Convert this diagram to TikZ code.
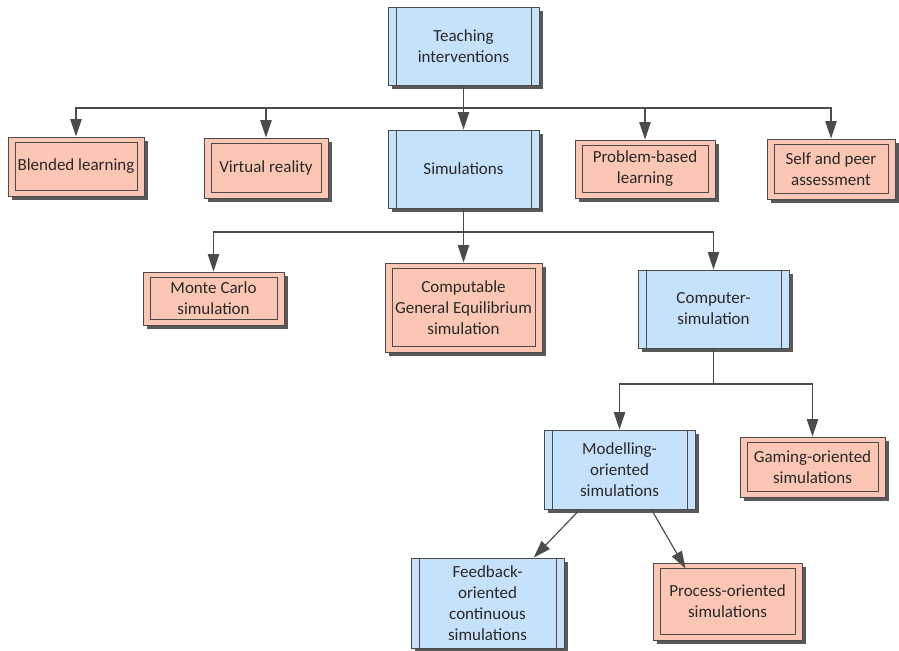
\documentclass[tikz,border=0pt]{standalone}
\usepackage{fontspec}
\setmainfont{Carlito}
\usepackage{tikz}
\usetikzlibrary{arrows.meta,shadows,calc}
\definecolor{simblue}{RGB}{197,225,252}
\definecolor{leafpink}{RGB}{251,199,180}
\definecolor{edgegray}{RGB}{75,75,75}
\definecolor{textgray}{RGB}{40,40,40}
\tikzstyle{basebox} = [draw=edgegray, line width=0.8pt, rectangle, align=center,
    text=textgray, font=\fontsize{14.5}{18}\selectfont, inner sep=2pt,
    drop shadow={shadow xshift=1.2mm, shadow yshift=-1.2mm, fill=black!65, opacity=1}]
\tikzstyle{simbox} = [basebox, fill=simblue,
    path picture={\draw[edgegray, line width=0.8pt]
        ([xshift=2.4mm]path picture bounding box.north west) -- ([xshift=2.4mm]path picture bounding box.south west)
        ([xshift=-2.4mm]path picture bounding box.north east) -- ([xshift=-2.4mm]path picture bounding box.south east);}]
\tikzstyle{leafbox} = [basebox, fill=leafpink,
    path picture={\draw[edgegray, line width=0.8pt]
        ([shift={(2.1mm,-1.6mm)}]path picture bounding box.north west) rectangle
        ([shift={(-2.1mm,1.6mm)}]path picture bounding box.south east);}]
\tikzstyle{link} = [draw=edgegray, line width=1pt]
\tikzstyle{arr} = [link, -{Triangle[length=5.2mm, width=3.4mm]}]

\begin{document}
\begin{tikzpicture}[x=0.03cm, y=-0.03cm]
\useasboundingbox (0,0) rectangle (899,651);
\node [simbox, minimum width=4.53cm, minimum height=2.34cm] (teach) at (463.5,46) {Teaching\\interventions};
\node [leafbox, minimum width=4.08cm, minimum height=1.77cm] (blend) at (76,166.5) {Blended learning};
\node [leafbox, minimum width=3.72cm, minimum height=1.8cm] (vr) at (266,168) {Virtual reality};
\node [simbox, minimum width=4.53cm, minimum height=2.34cm] (sims) at (463.5,169) {Simulations};
\node [leafbox, minimum width=4.2cm, minimum height=1.74cm] (pbl) at (645,169) {Problem-based\\learning};
\node [leafbox, minimum width=3.84cm, minimum height=1.8cm] (self) at (831,169) {Self and peer\\assessment};
\node [leafbox, minimum width=4.23cm, minimum height=1.59cm] (monte) at (213.5,298.5) {Monte Carlo\\simulation};
\node [leafbox, minimum width=4.71cm, minimum height=2.67cm] (cge) at (463.5,307.5) {Computable\\General Equilibrium\\simulation};
\node [simbox, minimum width=4.53cm, minimum height=2.34cm] (comp) at (713.5,309) {Computer-\\simulation};
\node [simbox, minimum width=4.53cm, minimum height=2.37cm] (model) at (619.5,469.5) {Modelling-\\oriented\\simulations};
\node [leafbox, minimum width=4.35cm, minimum height=1.8cm] (game) at (812.5,467) {Gaming-oriented\\simulations};
\node [simbox, minimum width=4.59cm, minimum height=2.7cm] (feed) at (487.5,603) {Feedback-\\oriented\\continuous\\simulations};
\node [leafbox, minimum width=4.47cm, minimum height=2.31cm] (proc) at (727.5,601.5) {Process-oriented\\simulations};

\coordinate (j1) at (463.5,108);
\coordinate (j2) at (463.5,232);
\coordinate (j3) at (713.5,384);
\draw [link] (teach) -- (j1);
\foreach \n in {blend,vr,sims,pbl,self}
    \draw [arr] (j1) -| (\n.north);
\draw [link] (sims) -- (j2);
\foreach \n in {monte,cge,comp}
    \draw [arr] (j2) -| (\n.north);
\draw [link] (comp) -- (j3);
\foreach \n in {model,game}
    \draw [arr] (j3) -| (\n.north);
\draw [arr] ($(model.south west)!0.24!(model.south east)$) -- ($(feed.north west)!0.8!(feed.north east)$);
\draw [arr] ($(model.south west)!0.71!(model.south east)$) -- ($(proc.north west)!0.22!(proc.north east)+(0,6)$);
\end{tikzpicture}
\end{document}
